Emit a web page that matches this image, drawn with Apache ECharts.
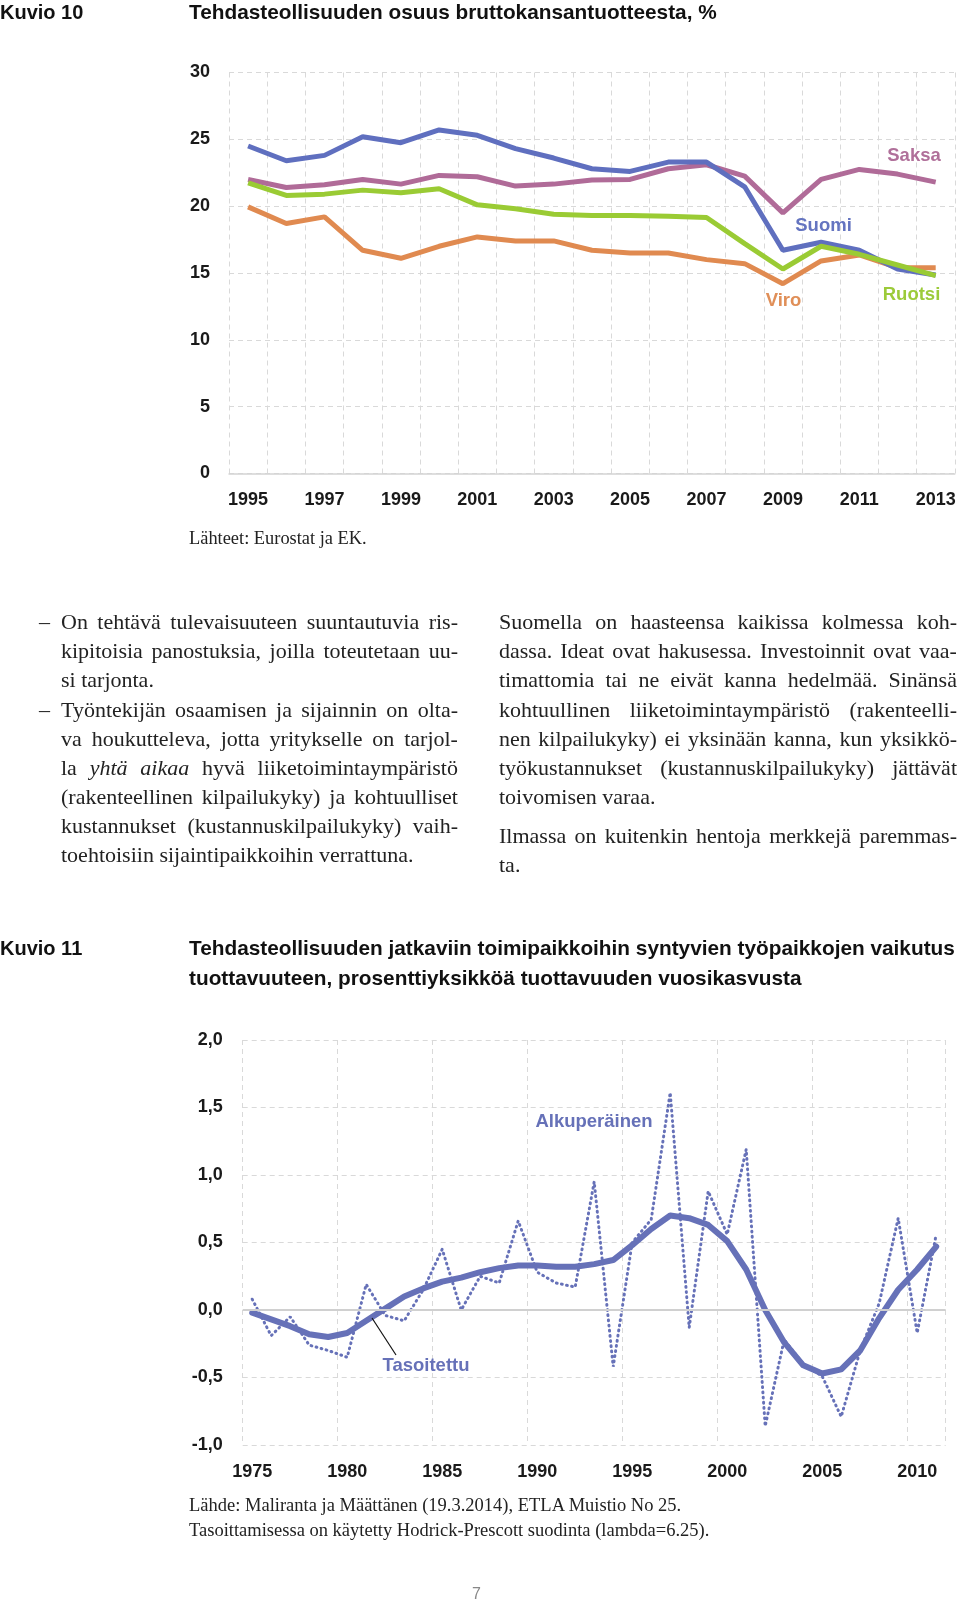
<!DOCTYPE html>
<html><head><meta charset="utf-8">
<script src="https://cdn.jsdelivr.net/npm/echarts@6/dist/echarts.min.js"></script>
<style>
html,body{margin:0;padding:0;background:#fff;}
body{width:960px;height:1603px;position:relative;overflow:hidden;}
#chart{position:absolute;left:0;top:0;width:960px;height:1603px;}
.t{position:absolute;white-space:nowrap;color:#111;}
.head{font-family:'Liberation Sans',Arial,sans-serif;font-weight:700;font-size:20.8px;line-height:26px;height:26px;}
.serif{font-family:'Liberation Serif','Times New Roman',serif;color:#222;}
.ln{position:absolute;display:flex;justify-content:space-between;white-space:nowrap;height:29px;line-height:29px;font-size:19px;}
.ln.last{justify-content:flex-start;}
.ln.last span{margin-right:0.25em;}
#meas{position:absolute;visibility:hidden;white-space:nowrap;font-size:19px;left:0;top:0;}
</style></head><body>
<div id="chart"></div>
<div id="txt"></div>
<span id="meas" class="serif"></span>
<script>
// ---------- Data ----------
const years1 = ['1995','1996','1997','1998','1999','2000','2001','2002','2003','2004','2005','2006','2007','2008','2009','2010','2011','2012','2013'];
const suomi  = [24.5,23.4,23.8,25.2,24.75,25.7,25.3,24.3,23.6,22.8,22.6,23.3,23.3,21.45,16.7,17.3,16.7,15.3,14.85];
const saksa  = [22.0,21.4,21.6,22.0,21.65,22.3,22.2,21.5,21.65,21.95,22.0,22.8,23.1,22.25,19.5,22.0,22.75,22.4,21.8];
const ruotsi = [21.75,20.8,20.9,21.2,21.0,21.3,20.1,19.8,19.4,19.3,19.3,19.25,19.15,17.2,15.3,17.0,16.4,15.6,14.8];
const viro   = [19.95,18.7,19.2,16.7,16.1,17.0,17.7,17.4,17.4,16.7,16.5,16.5,16.0,15.7,14.2,15.9,16.35,15.4,15.4];

const years2 = [];
for (let y = 1975; y <= 2011; y++) years2.push(String(y));
const tasoitettu = [-0.02,-0.07,-0.12,-0.18,-0.20,-0.17,-0.08,0.01,0.10,0.16,
                    0.21,0.24,0.28,0.31,0.33,0.33,0.32,0.32,0.34,0.37,
                    0.48,0.60,0.70,0.68,0.63,0.51,0.30,0.00,-0.24,-0.41,
                    -0.47,-0.44,-0.30,-0.06,0.15,0.30,0.47];
const alkuperainen = [0.08,-0.19,-0.05,-0.26,-0.30,-0.35,0.19,-0.04,-0.08,0.15,
                      0.45,0.00,0.25,0.20,0.66,0.28,0.20,0.17,0.95,-0.42,
                      0.50,0.67,1.61,-0.13,0.88,0.56,1.19,-0.86,-0.22,-0.40,
                      -0.49,-0.79,-0.30,0.05,0.68,-0.17,0.56];

const title1 = 'Tehdasteollisuuden osuus bruttokansantuotteesta, %';
const title2a = 'Tehdasteollisuuden jatkaviin toimipaikkoihin syntyvien työpaikkojen vaikutus';
const title2b = 'tuottavuuteen, prosenttiyksikköä tuottavuuden vuosikasvusta';
const source1 = 'Lähteet: Eurostat ja EK.';
const source2a = 'Lähde: Maliranta ja Määttänen (19.3.2014), ETLA Muistio No 25.';
const source2b = 'Tasoittamisessa on käytetty Hodrick-Prescott suodinta (lambda=6.25).';

const leftParas = [
  ['On tehtävä tulevaisuuteen suuntautuvia ris-','kipitoisia panostuksia, joilla toteutetaan uu-','si tarjonta.'],
  ['Työntekijän osaamisen ja sijainnin on olta-','va houkutteleva, jotta yritykselle on tarjol-','la _yhtä_ _aikaa_ hyvä liiketoimintaympäristö','(rakenteellinen kilpailukyky) ja kohtuulliset','kustannukset (kustannuskilpailukyky) vaih-','toehtoisiin sijaintipaikkoihin verrattuna.']
];
const rightParas = [
  ['Suomella on haasteensa kaikissa kolmessa koh-','dassa. Ideat ovat hakusessa. Investoinnit ovat vaa-','timattomia tai ne eivät kanna hedelmää. Sinänsä','kohtuullinen liiketoimintaympäristö (rakenteelli-','nen kilpailukyky) ei yksinään kanna, kun yksikkö-','työkustannukset (kustannuskilpailukyky) jättävät','toivomisen varaa.'],
  ['Ilmassa on kuitenkin hentoja merkkejä paremmas-','ta.']
];

// ---------- HTML text ----------
const txt = document.getElementById('txt');
function addText(str, cls, x, yc, h, extra) {
  const d = document.createElement('div');
  d.className = 't ' + cls;
  d.textContent = str;
  d.style.left = x + 'px';
  d.style.top = (yc - h / 2) + 'px';
  if (extra) Object.assign(d.style, extra);
  txt.appendChild(d);
  return d;
}
addText('Kuvio 10', 'head', 0, 12, 26, {fontWeight: 600, fontSize: '20px'});
addText(title1, 'head', 189, 12, 26);
addText('Kuvio 11', 'head', 0, 948, 26, {fontWeight: 600, fontSize: '20px'});
addText(title2a, 'head', 189, 948, 26);
addText(title2b, 'head', 189, 978, 26);
addText(source1, 'serif', 189, 538, 22, {fontSize: '18.4px', lineHeight: '22px'});
addText(source2a, 'serif', 189, 1505, 22, {fontSize: '18.5px', lineHeight: '22px'});
addText(source2b, 'serif', 189, 1529.5, 22, {fontSize: '18.5px', lineHeight: '22px'});
addText('7', 'head', 472, 1594, 22, {fontSize: '16px', lineHeight: '22px', color: '#888', fontWeight: 400});

// fit body font size so that every justified line has at least normal word spacing
const meas = document.getElementById('meas');
let ratio = 10;
function checkLines(paras, w) {
  paras.forEach(p => p.forEach((l, i) => {
    if (i === p.length - 1) return;
    meas.textContent = l.replace(/_/g, '');
    ratio = Math.min(ratio, w / meas.getBoundingClientRect().width);
  }));
}
checkLines(leftParas, 397);
checkLines(rightParas, 458);
const bodyFs = Math.min(22, 19 * ratio * 0.995);

const lines = [];
function addLine(str, x, yc, w, last) {
  const d = document.createElement('div');
  d.className = 'ln serif' + (last ? ' last' : '');
  d.style.left = x + 'px';
  d.style.top = (yc - 14.5) + 'px';
  d.style.width = w + 'px';
  d.style.fontSize = bodyFs + 'px';
  str.split(' ').forEach(word => {
    const s = document.createElement('span');
    if (/^_.*_$/.test(word)) { s.textContent = word.slice(1, -1); s.style.fontStyle = 'italic'; }
    else s.textContent = word;
    d.appendChild(s);
  });
  txt.appendChild(d);
}
const LH = 29.14;
let row = 0;
leftParas.forEach(p => {
  addText('–', 'serif', 39, 621.6 + row * LH, 29, {fontSize: bodyFs + 'px', lineHeight: '29px'});
  p.forEach((l, i) => { addLine(l, 61, 621.6 + row * LH, 397, i === p.length - 1); row++; });
});
let yR = 621.6;
rightParas.forEach((p, pi) => {
  if (pi > 0) yR += 10;
  p.forEach((l, i) => { addLine(l, 499, yR, 458, i === p.length - 1); yR += LH; });
});

// ---------- Chart ----------
const NUMF = "'Liberation Sans', Arial, sans-serif";
const axisFont = {fontFamily: NUMF, fontWeight: 'bold', fontSize: 18, color: '#1a1a1a'};
const gridLine = {type: [5, 4], color: '#d9d9d9', width: 1};
const C_SUOMI = '#5f6fbf', C_SAKSA = '#b06b98', C_RUOTSI = '#9acb34', C_VIRO = '#e08a50', C_FI2 = '#6671b8';

const chart = echarts.init(document.getElementById('chart'), null, {renderer: 'canvas'});
function lbl(text, x, y, color) {
  return {type: 'text', x: x, y: y, style: {text: text, fill: color, font: "bold 18.5px " + NUMF, align: 'center', verticalAlign: 'middle'}, z: 10};
}
const option = {
  animation: false,
  grid: [
    {left: 229, top: 72.5, width: 725.8, height: 401},
    {left: 242.7, top: 1040, width: 703, height: 405}
  ],
  xAxis: [
    {gridIndex: 0, type: 'category', data: years1, boundaryGap: true,
     axisLine: {show: true, lineStyle: {color: '#d4d4d4', width: 1.5}}, axisTick: {show: false},
     axisLabel: Object.assign({interval: 1, margin: 18}, axisFont),
     splitLine: {show: true, interval: 0, lineStyle: gridLine}},
    {gridIndex: 1, type: 'category', data: years2, boundaryGap: true,
     axisLine: {show: false}, axisTick: {show: false},
     axisLabel: Object.assign({interval: 4, margin: 18}, axisFont),
     splitLine: {show: true, interval: 4, lineStyle: gridLine}}
  ],
  yAxis: [
    {gridIndex: 0, type: 'value', min: 0, max: 30, interval: 5,
     axisLine: {show: false}, axisTick: {show: false},
     axisLabel: Object.assign({margin: 19}, axisFont),
     splitLine: {show: true, lineStyle: gridLine}},
    {gridIndex: 1, type: 'value', min: -1, max: 2, interval: 0.5,
     axisLine: {show: false}, axisTick: {show: false},
     axisLabel: Object.assign({margin: 20, formatter: v => v.toFixed(1).replace('.', ',')}, axisFont),
     splitLine: {show: true, lineStyle: gridLine}}
  ],
  series: [
    {name: 'Saksa', type: 'line', xAxisIndex: 0, yAxisIndex: 0, data: saksa, symbol: 'none', lineStyle: {color: C_SAKSA, width: 5}, itemStyle: {color: C_SAKSA}},
    {name: 'Viro', type: 'line', xAxisIndex: 0, yAxisIndex: 0, data: viro, symbol: 'none', lineStyle: {color: C_VIRO, width: 5}, itemStyle: {color: C_VIRO}},
    {name: 'Suomi', type: 'line', xAxisIndex: 0, yAxisIndex: 0, data: suomi, symbol: 'none', lineStyle: {color: C_SUOMI, width: 5}, itemStyle: {color: C_SUOMI}},
    {name: 'Ruotsi', type: 'line', xAxisIndex: 0, yAxisIndex: 0, data: ruotsi, symbol: 'none', lineStyle: {color: C_RUOTSI, width: 5}, itemStyle: {color: C_RUOTSI}},
    {name: 'Alkuperäinen', type: 'line', xAxisIndex: 1, yAxisIndex: 1, data: alkuperainen, symbol: 'none',
     lineStyle: {color: C_FI2, width: 3, type: [0.8, 4.4], cap: 'round'}, itemStyle: {color: C_FI2},
     markLine: {silent: true, symbol: 'none', label: {show: false}, lineStyle: {color: '#d0d0d0', width: 2, type: 'solid'}, data: [{yAxis: 0}]}},
    {name: 'Tasoitettu', type: 'line', xAxisIndex: 1, yAxisIndex: 1, data: tasoitettu, symbol: 'none',
     lineStyle: {color: C_FI2, width: 6, cap: 'round', join: 'round'}, itemStyle: {color: C_FI2}}
  ],
  graphic: [
    lbl('Saksa', 914, 156, '#b0709a'),
    lbl('Suomi', 823.5, 226, '#6474c0'),
    lbl('Viro', 783.5, 300.5, '#e08f58'),
    lbl('Ruotsi', 911.5, 295, '#9ccb3a'),
    lbl('Alkuperäinen', 594, 1122, '#6671b8'),
    lbl('Tasoitettu', 426, 1366, '#6671b8'),
    {type: 'line', shape: {x1: 372, y1: 1318, x2: 396, y2: 1355}, style: {stroke: '#111', lineWidth: 1.2}, z: 10}
  ]
};
chart.setOption(option);
</script>
</body></html>
